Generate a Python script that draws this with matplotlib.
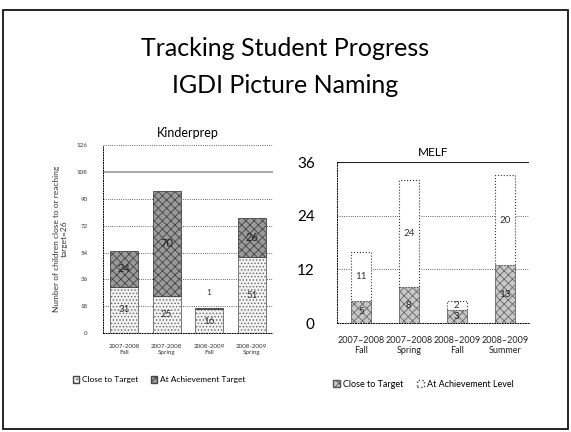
import matplotlib
matplotlib.use('Agg')
import matplotlib.pyplot as plt
from matplotlib.patches import Patch, Rectangle
import numpy as np

plt.rcParams['font.family'] = ['Lato', 'DejaVu Sans']
plt.rcParams['hatch.linewidth'] = 0.6

# Kinderprep data
kp_labels = ['2007-2008\nFall', '2007-2008\nSpring', '2008-2009\nFall', '2008-2009\nSpring']
kp_close = [31, 25, 16, 51]
kp_achieve = [24, 70, 1, 26]
kp_ticks = [0, 18, 36, 54, 72, 90, 108, 126]

# MELF data
melf_labels = ['2007\u20132008\nFall', '2007\u20132008\nSpring', '2008\u20132009\nFall', '2008\u20132009\nSummer']
melf_close = [5, 8, 3, 13]
melf_achieve = [11, 24, 2, 20]
melf_ticks = [0, 12, 24, 36]

fig = plt.figure(figsize=(5.71, 4.32), dpi=100)

# slide frame
fig.patches.append(Rectangle((0.006, 0.006), 0.988, 0.97, transform=fig.transFigure,
                             fill=False, edgecolor='black', linewidth=1.2))

fig.text(0.5, 0.888, 'Tracking Student Progress', ha='center', va='center', fontsize=18)
fig.text(0.5, 0.803, 'IGDI Picture Naming', ha='center', va='center', fontsize=18)

# ---- Kinderprep ----
ax1 = fig.add_axes([0.180, 0.229, 0.298, 0.435])
x = np.arange(len(kp_labels))
ax1.bar(x, kp_close, width=0.66, color='#f2f2f2', edgecolor='#666666',
        hatch='.....', linewidth=0.6, zorder=3)
ax1.bar(x, kp_achieve, width=0.66, bottom=kp_close, color='#9a9a9a', edgecolor='#444444',
        hatch='xxxx', linewidth=0.6, zorder=3)
for i in range(len(x)):
    ax1.text(x[i], kp_close[i] / 2, str(kp_close[i]), ha='center', va='center',
             fontsize=7, color='#333333', zorder=4)
    if kp_achieve[i] > 5:
        ax1.text(x[i], kp_close[i] + kp_achieve[i] / 2, str(kp_achieve[i]), ha='center',
                 va='center', fontsize=8, color='#222222', zorder=4)
    else:
        ax1.text(x[i], kp_close[i] + kp_achieve[i] + 10, str(kp_achieve[i]), ha='center',
                 va='center', fontsize=6, color='#333333', zorder=4)
ax1.set_xlim(-0.5, 3.5)
ax1.set_ylim(0, 126)
ax1.set_yticks(kp_ticks)
ax1.tick_params(axis='y', labelsize=4.5, length=0, pad=11, colors='#333333')
ax1.set_xticks(x)
ax1.set_xticklabels(kp_labels, fontsize=4.5, color='#333333')
ax1.tick_params(axis='x', length=0, pad=8)
for t in kp_ticks[1:]:
    if t == 108:
        ax1.axhline(t, color='#999999', linewidth=1.2, zorder=1)
    else:
        ax1.axhline(t, color='#333333', linewidth=0.6, linestyle=':', zorder=1)
for s in ['top', 'right']:
    ax1.spines[s].set_visible(False)
for s in ['left', 'bottom']:
    ax1.spines[s].set_linestyle(':')
    ax1.spines[s].set_linewidth(0.7)
ax1.set_ylabel('Number of children close to or reaching\ntarget=26', fontsize=6,
               color='#333333', labelpad=6)
ax1.set_title('Kinderprep', fontsize=9, pad=6)
ax1.legend(handles=[Patch(facecolor='#f2f2f2', edgecolor='#444444', hatch='....', label='Close to Target'),
                    Patch(facecolor='#9a9a9a', edgecolor='#444444', hatch='xxx', label='At Achievement Target')],
           loc='upper center', bbox_to_anchor=(0.33, -0.19), ncol=2, frameon=False,
           fontsize=6, handlelength=0.8, handleheight=0.8, handletextpad=0.3, columnspacing=1.5)

# ---- MELF ----
ax2 = fig.add_axes([0.590, 0.252, 0.336, 0.373])
x2 = np.arange(len(melf_labels))
ax2.bar(x2, melf_close, width=0.42, color='#c8c8c8', edgecolor='#666666',
        hatch='xxxx', linewidth=0.6, zorder=3)
ax2.bar(x2, melf_achieve, width=0.42, bottom=melf_close, color='white', edgecolor='#333333',
        linestyle=':', linewidth=0.8, zorder=3)
for i in range(len(x2)):
    ax2.text(x2[i], melf_close[i] / 2, str(melf_close[i]), ha='center', va='center',
             fontsize=7, color='#222222', zorder=4)
    ax2.text(x2[i], melf_close[i] + melf_achieve[i] / 2, str(melf_achieve[i]), ha='center',
             va='center', fontsize=7, color='#333333', zorder=4)
ax2.set_xlim(-0.5, 3.5)
ax2.set_ylim(0, 36)
ax2.set_yticks(melf_ticks)
ax2.tick_params(axis='y', labelsize=11, length=0, pad=16)
ax2.set_xticks(x2)
ax2.set_xticklabels(melf_labels, fontsize=6.5, color='#222222')
ax2.tick_params(axis='x', length=0, pad=9)
for t in melf_ticks[1:3]:
    ax2.axhline(t, color='#333333', linewidth=0.6, linestyle=':', zorder=1)
ax2.axhline(36, color='#222222', linewidth=0.8, zorder=1)
for s in ['top', 'right']:
    ax2.spines[s].set_visible(False)
for s in ['left', 'bottom']:
    ax2.spines[s].set_linestyle(':')
    ax2.spines[s].set_linewidth(0.7)
ax2.set_title('MELF', fontsize=8.5, pad=4)
ax2.legend(handles=[Patch(facecolor='#c8c8c8', edgecolor='#555555', hatch='xxx', label='Close to Target'),
                    Patch(facecolor='white', edgecolor='#444444', linestyle=':', label='At Achievement Level')],
           loc='upper center', bbox_to_anchor=(0.45, -0.3), ncol=2, frameon=False,
           fontsize=6.5, handlelength=0.8, handleheight=0.8, handletextpad=0.3, columnspacing=1.5)

plt.savefig('out.png', dpi=100)
plt.close(fig)
